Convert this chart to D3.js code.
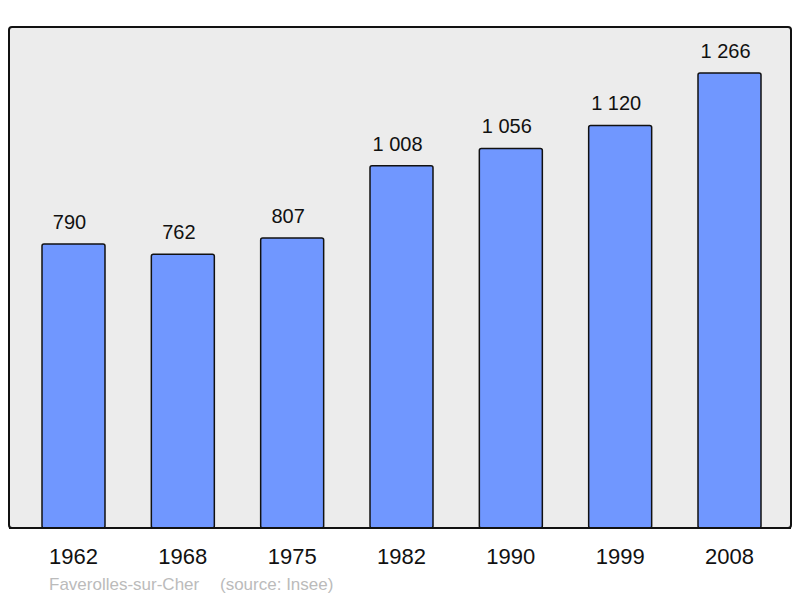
<!DOCTYPE html>
<html>
<head>
<meta charset="utf-8">
<script src="https://cdn.jsdelivr.net/npm/d3@7"></script>
<style>
    body { margin: 0; background: #fff; }
    text { font-family: "Liberation Sans", Arial, sans-serif; }
</style>
</head>
<body>
<div id="chart"></div>
<script>
// population data
let years = ['1962', '1968', '1975', '1982', '1990', '1999', '2008'];
let population = [790, 762, 807, 1008, 1056, 1120, 1266];
let commune = 'Faverolles-sur-Cher';
let source = '(source: Insee)';

let width = 800, height = 598;
let frame = {left: 9, right: 791, top: 27, bottom: 528};

let svg = d3.select('#chart').append('svg')
    .attr('width', width)
    .attr('height', height);

// background panel
svg.append('rect')
    .attr('x', frame.left)
    .attr('y', frame.top)
    .attr('width', frame.right - frame.left)
    .attr('height', frame.bottom - frame.top)
    .attr('rx', 3)
    .attr('fill', '#ececec')
    .attr('stroke', '#111')
    .attr('stroke-width', 2);

let x = d3.scaleBand()
    .domain(years)
    .range([42, 761])
    .paddingInner(0.4238)
    .paddingOuter(0);

let y = d3.scaleLinear()
    .domain([0, 1394])
    .range([frame.bottom, frame.top]);

let fmt = n => d3.format(',')(n).replace(',', ' ');

let data = years.map((yr, i) => ({year: yr, value: population[i]}));

// bars
svg.selectAll('.bar')
    .data(data)
    .enter().append('rect')
    .attr('class', 'bar')
    .attr('x', d => x(d.year))
    .attr('y', d => y(d.value))
    .attr('width', x.bandwidth())
    .attr('height', d => frame.bottom - y(d.value))
    .attr('rx', 2)
    .attr('fill', '#7097ff')
    .attr('stroke', '#111')
    .attr('stroke-width', 1.5);

// redraw bottom frame line over bars
svg.append('line')
    .attr('x1', frame.left)
    .attr('x2', frame.right)
    .attr('y1', frame.bottom)
    .attr('y2', frame.bottom)
    .attr('stroke', '#111')
    .attr('stroke-width', 2);

// value labels (sit slightly left of bar centre)
svg.selectAll('.val')
    .data(data)
    .enter().append('text')
    .attr('class', 'val')
    .attr('x', d => x(d.year) + x.bandwidth() / 2 - 4)
    .attr('y', d => y(d.value) - 15)
    .attr('text-anchor', 'middle')
    .attr('font-size', 20)
    .attr('fill', '#111')
    .text(d => fmt(d.value));

// year labels
let xAxis = d3.axisBottom(x).tickSize(0).tickPadding(0);
let axisG = svg.append('g')
    .attr('transform', `translate(0, ${frame.bottom})`)
    .call(xAxis);
axisG.select('.domain').remove();
axisG.selectAll('text')
    .attr('y', 36)
    .attr('dy', null)
    .attr('font-size', 22)
    .attr('font-family', '"Liberation Sans", Arial, sans-serif')
    .attr('fill', '#111');

// footer
svg.append('text')
    .attr('x', 49)
    .attr('y', 590)
    .attr('font-size', 17)
    .attr('fill', '#bbb')
    .text(commune);

svg.append('text')
    .attr('x', 220)
    .attr('y', 590)
    .attr('font-size', 17)
    .attr('fill', '#bbb')
    .text(source);
</script>
</body>
</html>
